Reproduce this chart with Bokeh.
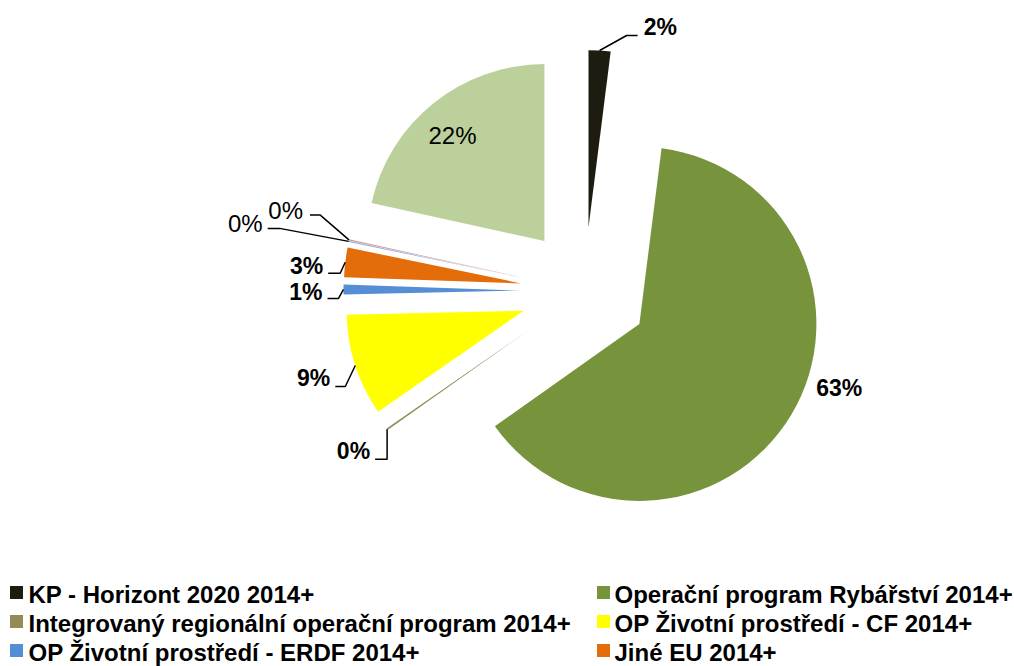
import numpy as np
from bokeh.plotting import figure
from bokeh.models import Range1d
from bokeh.core.properties import value
from bokeh.embed import file_html
from bokeh.resources import INLINE

# ---------------- data ----------------
categories = [
    "KP - Horizont 2020 2014+",
    "Operační program Rybářství 2014+",
    "Integrovaný regionální operační program 2014+",
    "OP Životní prostředí - CF 2014+",
    "OP Životní prostředí - ERDF 2014+",
    "Jiné EU 2014+",
    "Ostatní A",
    "Ostatní B",
    "Ostatní C",
]
shares = [2.0, 63.2, 0.15, 9.3, 0.9, 2.7, 0.1, 0.1, 21.55]
colors = ["#1e1c11", "#77933c", "#948a54", "#ffff00", "#558ed5",
          "#e46c0a", "#8eb4e3", "#d99694", "#bbd09a"]
legend_count = 6  # entries visible in the legend

# ---------------- style / layout ----------------
W, H = 1014, 666
FONT = "Liberation Sans"
center_px = (584.0, 290.5)
explode = 64.0
radius = 177.0

# label styles per slice:
# ("lead", elbow_dx, elbow_dy, hlen, text_dx, text_dy, bold) or ("free", dx, dy, bold)
label_style = [
    ("lead", 27, -15, 11, 6, -8, True),
    ("free", 48, -27, True),
    ("lead", 0, 30, -12, -5, -8, True),
    ("lead", -10, 21, -10, -5, -8, True),
    ("lead", -5, 9, -11, -5, -6, True),
    ("lead", -5, 11, -12, -5, -7, True),
    ("lead", -69, -13, -12, -5, -5, False),
    ("lead", -29, -25, -10, -7, -4, False),
    ("free", 19, 32, False),
]
BOLD_SIZE = "23px"
NORMAL_SIZE = "24px"

p = figure(width=W, height=H, output_backend="svg", toolbar_location=None,
           x_range=Range1d(0, W), y_range=Range1d(0, H),
           min_border=0, outline_line_color=None, background_fill_color="white",
           border_fill_color="white")
p.axis.visible = False
p.grid.visible = False

vals = np.array(shares, dtype=float)
frac = vals / vals.sum()
cum = np.concatenate([[0.0], np.cumsum(frac)]) * 2 * np.pi
start, end = cum[:-1], cum[1:]
mid = (start + end) / 2
ux, uy = np.sin(mid), np.cos(mid)  # data coords, y up
cx, cy = center_px[0], H - center_px[1]
ax = cx + explode * ux
ay = cy + explode * uy

p.wedge(x=ax, y=ay, radius=radius,
        start_angle=np.pi / 2 - start, end_angle=np.pi / 2 - end,
        direction="clock", fill_color=colors, line_color=None)

# labels
anc_x = ax + radius * ux
anc_y = ay + radius * uy
pct = [f"{int(round(f * 100))}%" for f in frac]
lx, ly = [], []
for i, st in enumerate(label_style):
    if st[0] == "lead":
        _, edx, edy, hl, tdx, tdy, bold = st
        ex, ey = anc_x[i] + edx, anc_y[i] - edy
        hx = ex + hl
        lx.append([anc_x[i], ex, hx])
        ly.append([anc_y[i], ey, ey])
        tx, ty = hx + tdx, ey - tdy
        align = "left" if hl > 0 else "right"
    else:
        _, dx, dy, bold = st
        tx, ty = anc_x[i] + dx, anc_y[i] - dy
        align = "center"
    p.text(x=[tx], y=[ty], text=[pct[i]], text_font=value(FONT),
           text_font_size=BOLD_SIZE if bold else NORMAL_SIZE,
           text_font_style="bold" if bold else "normal",
           text_align=align, text_baseline="middle", text_color="#000000")
p.multi_line(xs=lx, ys=ly, line_color="#000000", line_width=1.5)

# legend (two columns)
col_sq_x = [16, 603]
col_tx_x = [28, 614]
row_base = [594, 623, 652]
lg_sq_x, lg_sq_y, lg_tx_x, lg_tx_y = [], [], [], []
for k in range(legend_count):
    r, c = divmod(k, 2)
    lg_sq_x.append(col_sq_x[c])
    lg_sq_y.append(H - (row_base[r] - 2))
    lg_tx_x.append(col_tx_x[c])
    lg_tx_y.append(H - row_base[r])
p.rect(x=lg_sq_x, y=lg_sq_y, width=13, height=13, width_units="screen",
       height_units="screen", fill_color=colors[:legend_count], line_color=None)
p.text(x=lg_tx_x, y=lg_tx_y, text=categories[:legend_count], text_font=value(FONT),
       text_font_size="24px", text_font_style="bold", text_align="left",
       text_baseline="alphabetic", text_color="#000000")

open("out.html", "w").write(file_html(p, INLINE))
